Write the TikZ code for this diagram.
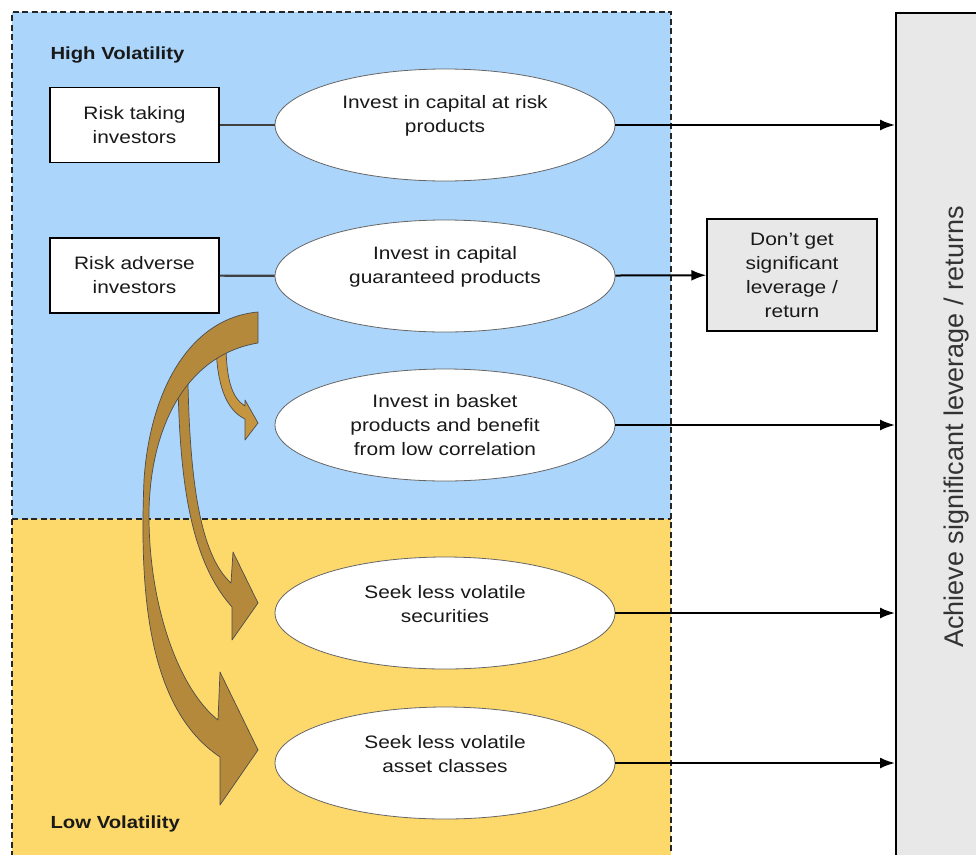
\documentclass[tikz,border=0pt]{standalone}
\usepackage{fontspec}
\setmainfont{Liberation Sans}[FakeStretch=1.16]
\newfontfamily\plainsans{Liberation Sans}
\usetikzlibrary{shapes.geometric,arrows.meta}

\definecolor{highvol}{HTML}{ABD5FB}
\definecolor{lowvol}{HTML}{FDD86A}
\definecolor{outcome}{HTML}{E8E8E8}
\definecolor{bend}{HTML}{B5893B}
\definecolor{bendlight}{HTML}{C6953F}

\begin{document}
\begin{tikzpicture}[x=1pt,y=-1pt,
  every node/.style={font=\fontsize{18}{24}\selectfont, align=center, text=black!90},
  investor/.style={draw=black, line width=1.4pt, fill=white, minimum width=169pt, minimum height=75pt, inner sep=0pt},
  choice/.style={ellipse, draw=black!60, line width=0.8pt, fill=white, minimum width=340pt, minimum height=112pt, inner sep=0pt},
  result/.style={draw=black, line width=1.4pt, fill=outcome, minimum width=170pt, minimum height=112pt, inner sep=0pt},
  zonetitle/.style={font=\fontsize{17.5}{20}\selectfont\bfseries, anchor=base west},
  link/.style={draw=black!75, line width=2.2pt},
  goes/.style={draw=black, line width=2pt, -{Latex[length=15pt,width=11pt]}},
  zone/.style={draw=black!85, line width=1.7pt, dash pattern=on 6pt off 3.5pt},
  bendarrow/.style={draw=black!70, line width=0.7pt, line join=round}]

\useasboundingbox (0,0) rectangle (976,854);

% volatility zones
\fill[highvol] (12,12) rectangle (671,519);
\fill[lowvol] (12,519) rectangle (671,870);
\draw[zone] (671,870) -- (671,12) -- (12,12) -- (12,870);
\draw[zone] (12,519) -- (671,519);
\node[zonetitle] (high) at (47,59) {High Volatility};
\node[zonetitle] (low) at (47,828) {Low Volatility};

% outcome column
\node[draw=black, line width=1.8pt, fill=outcome, minimum width=120pt, minimum height=880pt, anchor=north west] (achieve) at (895,12) {};
\node[rotate=90, font=\plainsans\fontsize{27}{30}\selectfont, text=black!80] (achievetext) at (957,427) {Achieve significant leverage / returns};

% investors
\node[investor] (taking) at (134.5,125) {Risk taking\\investors};
\node[investor] (adverse) at (134.5,275.5) {Risk adverse\\investors};

% choices
\node[choice] (capital) at (445,125) {};
\node (capitaltext) at ([yshift=9pt]capital) {Invest in capital at risk\\products};
\node[choice] (guaranteed) at (445,276) {};
\node (guaranteedtext) at ([yshift=9pt]guaranteed) {Invest in capital\\guaranteed products};
\node[choice] (basket) at (445,425) {Invest in basket\\products and benefit\\from low correlation};
\node[choice] (securities) at (445,613) {};
\node (securitiestext) at ([yshift=9pt]securities) {Seek less volatile\\securities};
\node[choice] (classes) at (445,763) {};
\node (classestext) at ([yshift=9pt]classes) {Seek less volatile\\asset classes};

\node[result] (noreturn) at (792,275) {Don't get\\significant\\leverage /\\return};

\draw[link] (taking) -- (capital);
\draw[link] (adverse) -- (guaranteed);
\draw[goes] (guaranteed) -- (noreturn);
\foreach \c in {capital,basket,securities,classes}
    \draw[goes] (\c.east) -- (\c.east -| achieve.west);

% curved block arrows
\filldraw[bendarrow, fill=bendlight] (216,345) .. controls (217,385) and (226,410) .. (245,419)
  -- (245,440) -- (258,423) -- (245,400) -- (245,406)
  .. controls (232,398) and (226,380) .. (226,342) -- cycle;
\filldraw[bendarrow, fill=bend] (178,385) .. controls (180,480) and (190,560) .. (232,607)
  -- (232,640) -- (258,603) -- (233,552) -- (231,583)
  .. controls (200,555) and (190,480) .. (188,383) -- cycle;
\filldraw[bendarrow, fill=bend] (258,312) .. controls (190,318) and (150,390) .. (144,480)
  .. controls (139,600) and (150,710) .. (220,757)
  -- (220,805) -- (258,750) -- (220,672) -- (218,720)
  .. controls (180,690) and (150,610) .. (149,520)
  .. controls (148,430) and (185,355) .. (258,343) -- cycle;

\end{tikzpicture}
\end{document}
